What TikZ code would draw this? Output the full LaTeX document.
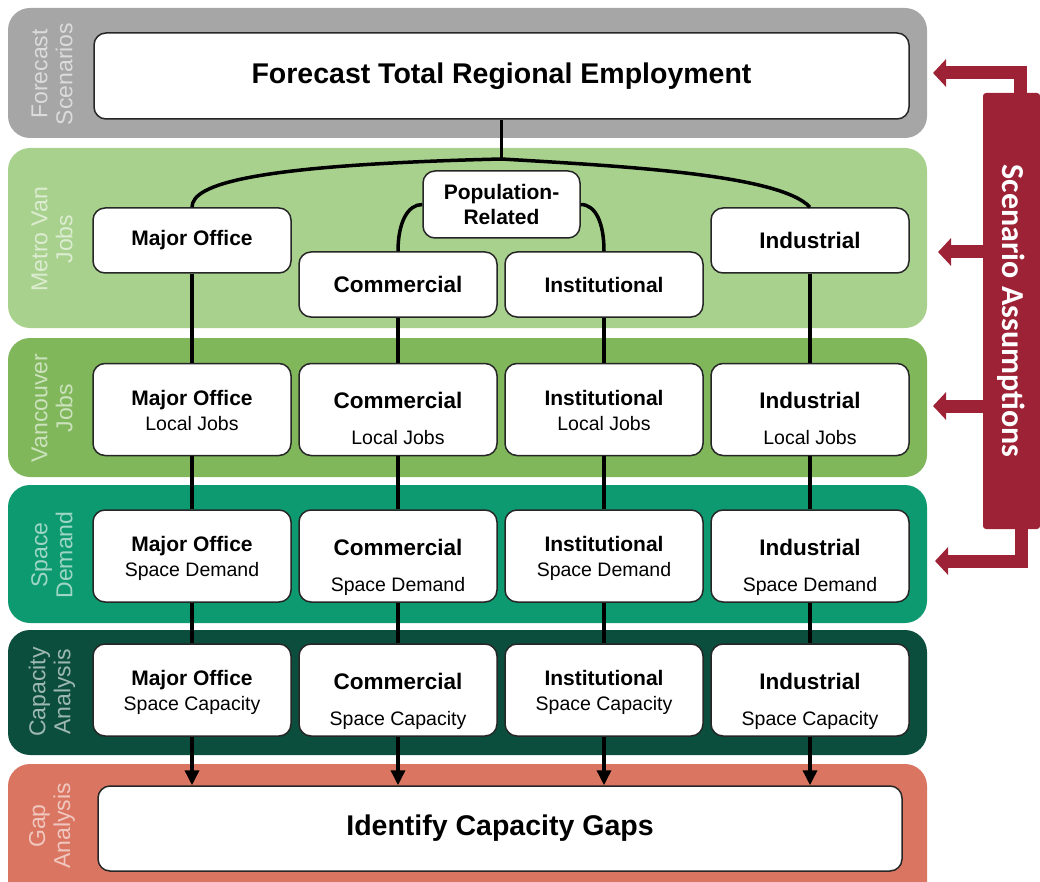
\documentclass[tikz,border=0pt]{standalone}
\usepackage{fontspec}
\setmainfont{Liberation Sans}
\newfontfamily\scenfont{Carlito}
\usetikzlibrary{arrows.meta,positioning}
\definecolor{fcgray}{HTML}{A6A6A6}
\definecolor{mvgreen}{HTML}{A9D18E}
\definecolor{vjgreen}{HTML}{80B75B}
\definecolor{sdgreen}{HTML}{0E9A70}
\definecolor{cagreen}{HTML}{0B4E3E}
\definecolor{gared}{HTML}{DA7561}
\definecolor{scenred}{HTML}{9E2236}
\newcommand{\hd}[1]{{\fontsize{21}{25}\selectfont\bfseries #1}}
\newcommand{\hdb}[1]{{\fontsize{22.5}{25}\selectfont\bfseries #1}}
\newcommand{\subline}[1]{#1\rule[-5pt]{0pt}{5pt}}
\newcommand{\twoline}[2]{\rule{0pt}{21pt}\hd{#1}\\\subline{#2}}
\newcommand{\twolinewide}[2]{\rule{0pt}{39pt}\hdb{#1}\\[11pt]\subline{#2}}
\tikzstyle{band} = [rounded corners=22pt]
\tikzstyle{side} = [rotate=90, text=white, text opacity=0.6, align=center, font=\fontsize{23}{25}\selectfont]
\tikzstyle{box} = [rectangle, draw=black!85, line width=1.5pt, fill=white, rounded corners=12pt, minimum width=198pt, minimum height=92pt, inner sep=0pt, align=center, font=\fontsize{19.5}{25}\selectfont]
\tikzstyle{head} = [box, font=\fontsize{28.5}{30}\selectfont\bfseries]
\tikzstyle{scen} = [rectangle, fill=scenred, text=white, rounded corners=3pt, rotate=-90, minimum width=436pt, minimum height=57pt, inner sep=0pt, font=\fontsize{32}{32}\scenfont\bfseries]
\tikzstyle{link} = [draw, line width=3.5pt]
\tikzstyle{line} = [draw, line width=3.5pt, -{Triangle[length=15pt,width=14pt]}]
\tikzstyle{assume} = [draw=scenred, line width=13pt, -{Triangle[length=13pt,width=27pt]}]

\begin{document}
\begin{tikzpicture}[x=1pt, y=-1pt, node distance=206pt]
\useasboundingbox (0,0) rectangle (1040,882);
\clip (0,0) rectangle (1040,882);
% Bands
\fill[fcgray, band] (8,8) rectangle (927,138);
\fill[mvgreen, band] (8,148) rectangle (927,328);
\fill[vjgreen, band] (8,338) rectangle (927,477);
\fill[sdgreen, band] (8,485) rectangle (927,623);
\fill[cagreen, band] (8,630) rectangle (927,755);
\fill[gared, band] (8,764) rectangle (927,905);
\node[side] (lfs) at (52,74) {Forecast\\Scenarios};
\node[side] (lmv) at (52,239) {Metro Van\\Jobs};
\node[side] (lvj) at (52,408) {Vancouver\\Jobs};
\node[side] (lsd) at (52,555) {Space\\Demand};
\node[side] (lca) at (52,692) {Capacity\\Analysis};
\node[side] (lga) at (52,826) {Gap\\Analysis};
% Place nodes
\node[head, minimum width=815pt, minimum height=86pt] (fc) at (501.5,76) {Forecast Total Regional Employment};
\node[box, minimum height=65pt] (mo) at (192,240.5) {\hd{Major Office}};
\node[box, minimum width=157pt, minimum height=67pt] (pop) at (501.5,204.5) {\hd{Population-}\\\hd{Related}};
\node[box, minimum height=65pt] (cm) at (398,284.5) {\hdb{Commercial}};
\node[box, minimum height=65pt] (im) at (604,284.5) {\hd{Institutional}};
\node[box, minimum height=65pt] (in) at (810,240.5) {\hdb{Industrial}};
\node[box] (vmo) at (192,409.5) {\twoline{Major Office}{Local Jobs}};
\node[box, right of=vmo] (vcm) {\twolinewide{Commercial}{Local Jobs}};
\node[box, right of=vcm] (vim) {\twoline{Institutional}{Local Jobs}};
\node[box, right of=vim] (vin) {\twolinewide{Industrial}{Local Jobs}};
\node[box] (smo) at (192,556) {\twoline{Major Office}{Space Demand}};
\node[box, right of=smo] (scm) {\twolinewide{Commercial}{Space Demand}};
\node[box, right of=scm] (sim) {\twoline{Institutional}{Space Demand}};
\node[box, right of=sim] (sin) {\twolinewide{Industrial}{Space Demand}};
\node[box] (cmo) at (192,690) {\twoline{Major Office}{Space Capacity}};
\node[box, right of=cmo] (ccm) {\twolinewide{Commercial}{Space Capacity}};
\node[box, right of=ccm] (cim) {\twoline{Institutional}{Space Capacity}};
\node[box, right of=cim] (cin) {\twolinewide{Industrial}{Space Capacity}};
\node[head, minimum width=804pt, minimum height=85pt] (ic) at (500,828.5) {Identify Capacity Gaps};
\node[scen] (sa) at (1011.5,311) {Scenario Assumptions};
% Draw edges
\coordinate (top) at (501.5,159);
\path[link] (fc) -- (top);
\path[link] (mo.north) .. controls +(0,-23) and +(-250,6) .. (top) .. controls +(118,7) and +(-30,-33) .. (in.north);
\path[link] (cm.north) .. controls +(0,-28) and +(-15,0) .. (pop.west);
\path[link] (pop.east) .. controls +(15,0) and +(0,-28) .. (im.north);
\path[link] (mo) -- (vmo);
\path[link] (cm) -- (vcm);
\path[link] (im) -- (vim);
\path[link] (in) -- (vin);
\path[link] (vmo) -- (smo);
\path[link] (vcm) -- (scm);
\path[link] (vim) -- (sim);
\path[link] (vin) -- (sin);
\path[link] (smo) -- (cmo);
\path[link] (scm) -- (ccm);
\path[link] (sim) -- (cim);
\path[link] (sin) -- (cin);
\path[line] (cmo) -- (cmo |- ic.north);
\path[line] (ccm) -- (ccm |- ic.north);
\path[line] (cim) -- (cim |- ic.north);
\path[line] (cin) -- (cin |- ic.north);
% Scenario arrows
\coordinate (a1) at (933,73);
\coordinate (a2) at (938,252);
\coordinate (a3) at (933,406);
\coordinate (a4) at (935,561);
\path[assume] ([xshift=9pt]sa.west) |- (a1);
\path[assume] (sa.south |- a2) -- (a2);
\path[assume] (sa.south |- a3) -- (a3);
\path[assume] ([xshift=10pt]sa.east) |- (a4);
\end{tikzpicture}
\end{document}
